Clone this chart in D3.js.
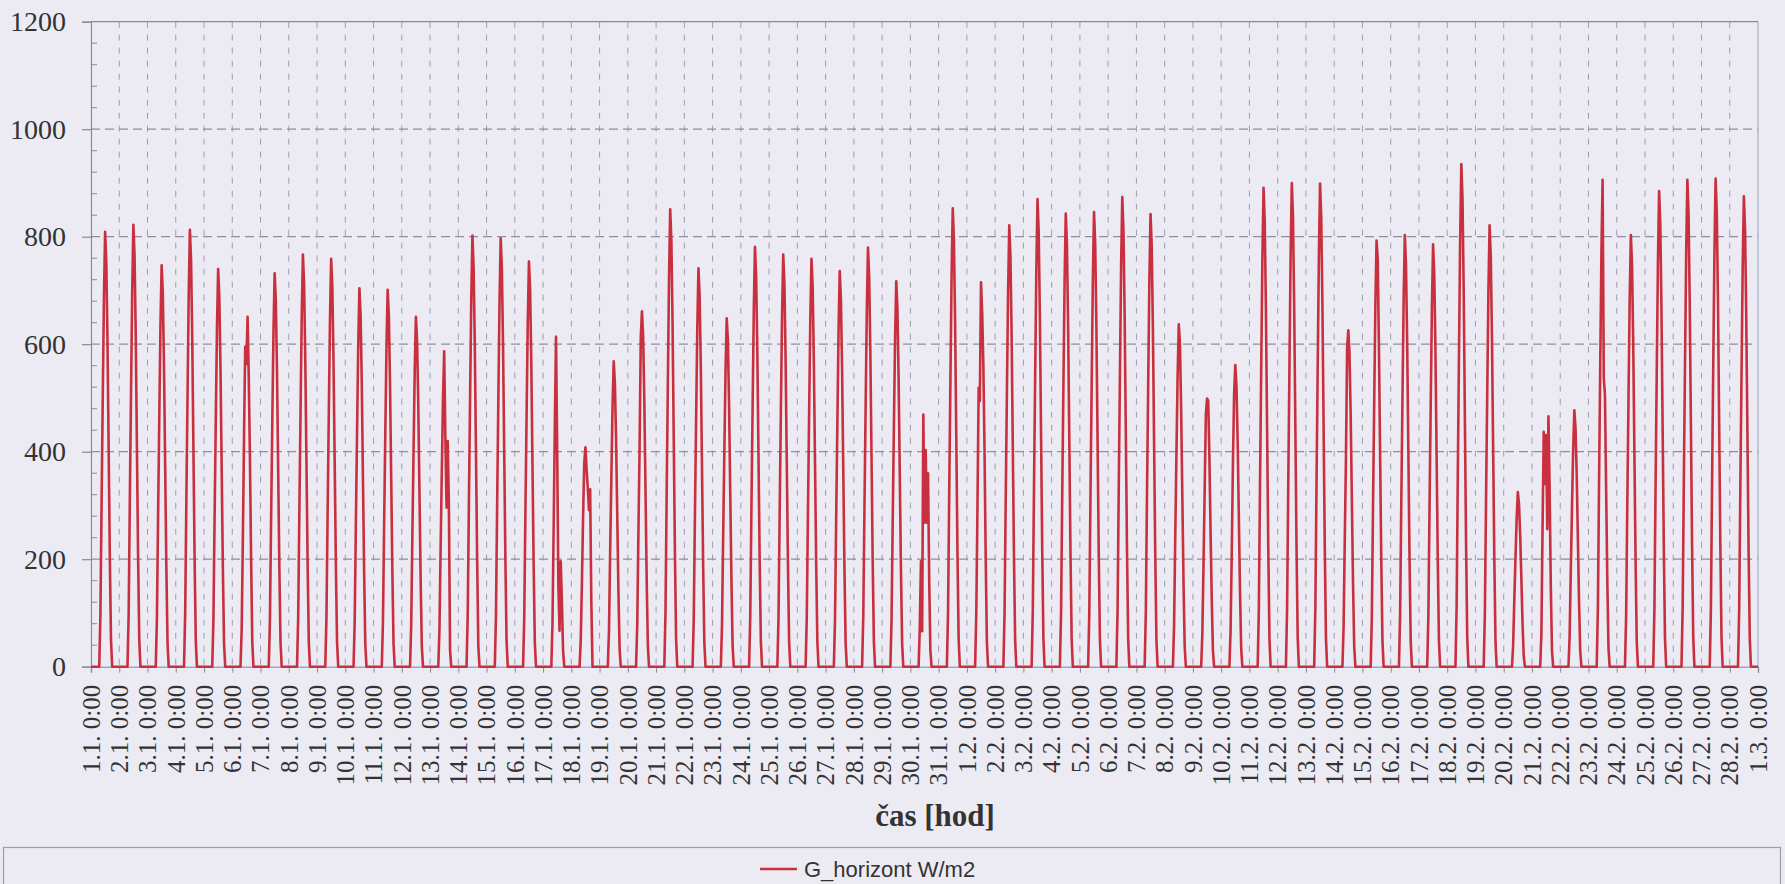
<!DOCTYPE html>
<html>
<head>
<meta charset="utf-8">
<script src="https://cdn.jsdelivr.net/npm/d3@7"></script>
<style>
  body { margin: 0; background: #ecebf4; }
  svg { display: block; }
</style>
</head>
<body>
<script>
// tick labels, one per day boundary
const dayLabels = [
  "1.1. 0:00", "2.1. 0:00", "3.1. 0:00", "4.1. 0:00", "5.1. 0:00", "6.1. 0:00", "7.1. 0:00", "8.1. 0:00",
  "9.1. 0:00", "10.1. 0:00", "11.1. 0:00", "12.1. 0:00", "13.1. 0:00", "14.1. 0:00", "15.1. 0:00",
  "16.1. 0:00", "17.1. 0:00", "18.1. 0:00", "19.1. 0:00", "20.1. 0:00", "21.1. 0:00", "22.1. 0:00",
  "23.1. 0:00", "24.1. 0:00", "25.1. 0:00", "26.1. 0:00", "27.1. 0:00", "28.1. 0:00", "29.1. 0:00",
  "30.1. 0:00", "31.1. 0:00", "1.2. 0:00", "2.2. 0:00", "3.2. 0:00", "4.2. 0:00", "5.2. 0:00",
  "6.2. 0:00", "7.2. 0:00", "8.2. 0:00", "9.2. 0:00", "10.2. 0:00", "11.2. 0:00", "12.2. 0:00",
  "13.2. 0:00", "14.2. 0:00", "15.2. 0:00", "16.2. 0:00", "17.2. 0:00", "18.2. 0:00", "19.2. 0:00",
  "20.2. 0:00", "21.2. 0:00", "22.2. 0:00", "23.2. 0:00", "24.2. 0:00", "25.2. 0:00", "26.2. 0:00",
  "27.2. 0:00", "28.2. 0:00", "1.3. 0:00"
];

const yTicks = [0, 200, 400, 600, 800, 1000, 1200];
const seriesName = "G_horizont W/m2";

// hourly irradiance for hours 7:00 .. 18:00 of each day (night hours are 0)
const firstHour = 7;
const dayProfiles = [
  [0, 97, 307, 502, 688, 809, 752, 607, 405, 202, 49, 0],
  [0, 99, 312, 510, 699, 822, 764, 617, 411, 206, 49, 0],
  [0, 90, 284, 463, 635, 747, 695, 560, 374, 187, 45, 0],
  [0, 98, 309, 504, 691, 813, 756, 610, 407, 203, 49, 0],
  [0, 89, 281, 459, 629, 740, 688, 555, 370, 185, 44, 0],
  [0, 70, 240, 430, 595, 563, 651, 540, 390, 200, 45, 0],
  [0, 88, 278, 454, 622, 732, 681, 549, 366, 183, 44, 0],
  [0, 92, 291, 476, 652, 767, 713, 575, 384, 192, 46, 0],
  [0, 91, 288, 471, 645, 759, 706, 569, 380, 190, 46, 0],
  [0, 84, 268, 437, 599, 704, 655, 528, 352, 176, 42, 0],
  [0, 84, 266, 435, 596, 701, 652, 526, 350, 175, 42, 0],
  [0, 78, 247, 404, 553, 651, 605, 488, 326, 163, 39, 0],
  [0, 70, 223, 364, 499, 587, 428, 296, 420, 300, 30, 0],
  [0, 96, 305, 497, 682, 802, 742, 602, 401, 200, 39, 0],
  [0, 96, 303, 494, 677, 797, 741, 598, 399, 199, 48, 0],
  [0, 90, 287, 467, 641, 754, 701, 566, 377, 189, 45, 0],
  [0, 80, 260, 450, 614, 400, 150, 67, 196, 120, 30, 0],
  [0, 49, 155, 280, 380, 408, 366, 331, 291, 330, 120, 0],
  [0, 68, 216, 352, 483, 568, 528, 426, 284, 142, 34, 0],
  [0, 79, 251, 410, 613, 661, 615, 496, 331, 165, 40, 0],
  [0, 102, 323, 528, 723, 851, 791, 638, 426, 213, 51, 0],
  [0, 89, 282, 459, 630, 741, 689, 556, 371, 185, 44, 0],
  [0, 78, 246, 402, 551, 648, 607, 486, 324, 162, 39, 0],
  [0, 94, 297, 484, 664, 781, 726, 586, 391, 195, 47, 0],
  [0, 92, 291, 476, 652, 767, 713, 575, 384, 192, 46, 0],
  [0, 91, 288, 471, 645, 759, 706, 569, 380, 190, 46, 0],
  [0, 88, 280, 456, 626, 736, 684, 552, 368, 184, 44, 0],
  [0, 94, 296, 484, 663, 780, 725, 585, 390, 195, 47, 0],
  [0, 86, 272, 445, 609, 717, 667, 538, 359, 179, 43, 0],
  [0, 73, 196, 66, 469, 268, 403, 268, 360, 160, 30, 0],
  [0, 102, 324, 529, 725, 853, 793, 640, 427, 213, 51, 0],
  [0, 100, 300, 519, 494, 715, 657, 560, 400, 200, 45, 0],
  [0, 99, 312, 509, 698, 821, 764, 616, 411, 205, 49, 0],
  [0, 104, 331, 539, 740, 870, 809, 653, 435, 218, 52, 0],
  [0, 101, 320, 523, 717, 843, 784, 632, 422, 211, 51, 0],
  [0, 102, 321, 525, 719, 846, 787, 635, 423, 212, 51, 0],
  [0, 105, 332, 542, 743, 874, 813, 656, 437, 219, 52, 0],
  [0, 101, 320, 522, 716, 842, 783, 632, 421, 211, 51, 0],
  [0, 76, 242, 395, 541, 637, 600, 478, 319, 159, 38, 0],
  [0, 60, 190, 330, 470, 499, 495, 390, 250, 125, 30, 0],
  [0, 67, 213, 380, 507, 561, 522, 421, 281, 140, 34, 0],
  [0, 107, 339, 552, 757, 891, 829, 668, 446, 223, 53, 0],
  [0, 108, 342, 558, 765, 900, 837, 675, 450, 225, 54, 0],
  [0, 108, 342, 557, 764, 899, 836, 674, 450, 225, 54, 0],
  [0, 75, 238, 388, 595, 626, 582, 470, 313, 157, 38, 0],
  [0, 95, 301, 492, 674, 793, 758, 595, 397, 198, 48, 0],
  [0, 96, 305, 498, 683, 803, 747, 602, 402, 201, 48, 0],
  [0, 94, 299, 487, 668, 786, 731, 590, 393, 197, 47, 0],
  [0, 112, 355, 580, 795, 935, 870, 701, 468, 234, 56, 0],
  [0, 99, 312, 509, 698, 821, 764, 616, 411, 205, 49, 0],
  [0, 39, 124, 202, 276, 325, 302, 244, 163, 81, 20, 0],
  [0, 60, 260, 437, 340, 431, 256, 466, 330, 150, 30, 0],
  [0, 57, 181, 296, 405, 477, 444, 358, 239, 119, 29, 0],
  [0, 109, 344, 562, 770, 906, 537, 506, 330, 160, 35, 0],
  [0, 96, 305, 498, 683, 803, 747, 602, 402, 201, 48, 0],
  [0, 106, 336, 549, 752, 885, 823, 664, 443, 221, 53, 0],
  [0, 109, 344, 562, 770, 906, 843, 680, 453, 227, 54, 0],
  [0, 109, 345, 563, 771, 908, 844, 681, 454, 227, 54, 0],
  [0, 105, 333, 543, 744, 875, 814, 656, 438, 219, 53, 0]
];

const width = 1785;
const height = 884;
const margin = { left: 91, right: 27, top: 21.7, bottom: 217.3 };
const nDays = dayProfiles.length;

// flatten day profiles into an hourly series
const series = [];
dayProfiles.forEach((prof, d) => {
  for (let h = 0; h < 24; h++) {
    const i = h - firstHour;
    series.push({ t: d * 24 + h, v: (i >= 0 && i < prof.length) ? prof[i] : 0 });
  }
});
series.push({ t: nDays * 24, v: 0 });

const x = d3.scaleLinear()
  .domain([0, nDays * 24])
  .range([margin.left, width - margin.right]);

const y = d3.scaleLinear()
  .domain([0, 1200])
  .range([height - margin.bottom, margin.top]);

const svg = d3.select("body").append("svg")
  .attr("width", width)
  .attr("height", height);

svg.append("rect")
  .attr("width", width).attr("height", height)
  .attr("fill", "#ecebf4");

const dayTicks = d3.range(nDays + 1).map(d => d * 24);

// vertical dashed gridlines
svg.append("g")
  .selectAll("line")
  .data(dayTicks.slice(1, -1))
  .join("line")
  .attr("x1", d => x(d)).attr("x2", d => x(d))
  .attr("y1", y(1200)).attr("y2", y(0))
  .attr("stroke", "#9d9cab")
  .attr("stroke-width", 1)
  .attr("stroke-dasharray", "6,7");

// horizontal dashed gridlines
svg.append("g")
  .selectAll("line")
  .data(yTicks.slice(1, -1))
  .join("line")
  .attr("x1", x(0)).attr("x2", x(nDays * 24))
  .attr("y1", d => y(d)).attr("y2", d => y(d))
  .attr("stroke", "#8f8e9c")
  .attr("stroke-width", 1.2)
  .attr("stroke-dasharray", "9,5");

// frame: top and right
svg.append("line")
  .attr("x1", x(0)).attr("x2", x(nDays * 24))
  .attr("y1", y(1200)).attr("y2", y(1200))
  .attr("stroke", "#8a8a96").attr("stroke-width", 1.2);
svg.append("line")
  .attr("x1", x(nDays * 24)).attr("x2", x(nDays * 24))
  .attr("y1", y(1200)).attr("y2", y(0))
  .attr("stroke", "#a8afc8").attr("stroke-width", 1.2);

// y axis
const yAxis = svg.append("g")
  .attr("transform", `translate(${x(0)},0)`)
  .call(d3.axisLeft(y).tickValues(yTicks).tickSize(9).tickPadding(16).tickFormat(d3.format("d")));
yAxis.select(".domain").attr("stroke", "#8a8a96").attr("stroke-width", 1.2);
yAxis.selectAll(".tick line").attr("stroke", "#8a8a96").attr("stroke-width", 1.2);
yAxis.selectAll("text")
  .attr("font-family", "'Liberation Serif', 'Times New Roman', serif")
  .attr("font-size", 28)
  .attr("fill", "#333");

// y minor ticks (inside)
svg.append("g")
  .selectAll("line")
  .data(d3.range(0, 1201, 40).filter(v => v % 200 !== 0))
  .join("line")
  .attr("x1", x(0)).attr("x2", x(0) + 6)
  .attr("y1", d => y(d)).attr("y2", d => y(d))
  .attr("stroke", "#8a8a96").attr("stroke-width", 1);

// x axis
const xAxis = svg.append("g")
  .attr("transform", `translate(0,${y(0)})`)
  .call(d3.axisBottom(x).tickValues(dayTicks).tickSize(6).tickFormat(""));
xAxis.select(".domain").attr("stroke", "#9aa6c8").attr("stroke-width", 1.5);
xAxis.selectAll(".tick line").attr("stroke", "#8a8a96");

svg.append("g")
  .selectAll("text")
  .data(dayTicks)
  .join("text")
  .attr("transform", (d) => `translate(${x(d)},${y(0) + 18}) rotate(-90)`)
  .attr("text-anchor", "end")
  .attr("dy", "0.35em")
  .attr("font-family", "'Liberation Serif', 'Times New Roman', serif")
  .attr("font-size", 25)
  .attr("fill", "#333")
  .text((d, i) => dayLabels[i]);

// axis title
svg.append("text")
  .attr("x", 935)
  .attr("y", 826)
  .attr("text-anchor", "middle")
  .attr("font-family", "'Liberation Serif', 'Times New Roman', serif")
  .attr("font-weight", "bold")
  .attr("font-size", 31)
  .attr("fill", "#333")
  .text("čas [hod]");

// data line
const line = d3.line()
  .x(d => x(d.t))
  .y(d => y(d.v));

svg.append("path")
  .datum(series)
  .attr("fill", "none")
  .attr("stroke", "#c8303f")
  .attr("stroke-width", 2.6)
  .attr("stroke-linejoin", "round")
  .attr("d", line);

// legend
svg.append("rect")
  .attr("x", 3.5).attr("y", 847.5)
  .attr("width", 1777).attr("height", 40)
  .attr("fill", "none")
  .attr("stroke", "#9c9ca6").attr("stroke-width", 1.2);

const lg = svg.append("g").attr("transform", "translate(760,869)");
lg.append("line")
  .attr("x1", 0).attr("x2", 37)
  .attr("stroke", "#c8303f").attr("stroke-width", 2.4);
lg.append("text")
  .attr("x", 44).attr("dy", "0.35em")
  .attr("font-family", "'Liberation Sans', Arial, sans-serif")
  .attr("font-size", 22)
  .attr("fill", "#333")
  .text(seriesName);
</script>
</body>
</html>
